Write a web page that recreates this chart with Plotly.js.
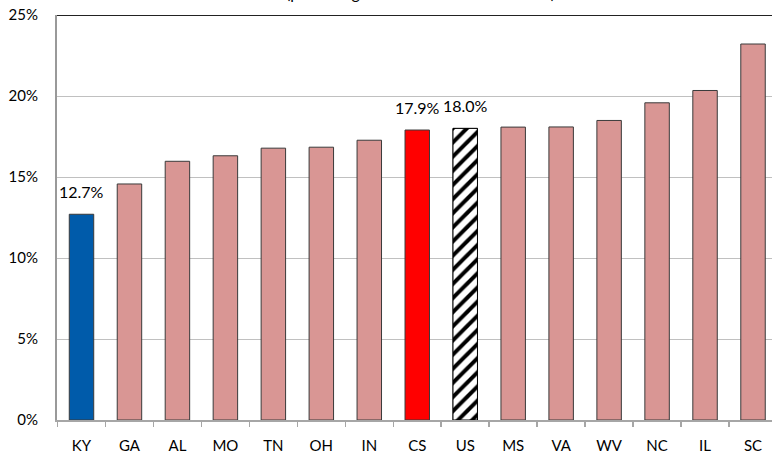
<!DOCTYPE html>
<html>
<head>
<meta charset="utf-8">
<script src="https://cdn.plot.ly/plotly-3.0.1.min.js"></script>
<style>
  html, body { margin: 0; padding: 0; overflow: hidden; background: #fff; }
  #chart { width: 780px; height: 455px; }
</style>
</head>
<body>
<div id="chart"></div>
<script>
// ---- data ----
const categories = ['KY','GA','AL','MO','TN','OH','IN','CS','US','MS','VA','WV','NC','IL','SC'];
const values = [12.7, 14.57, 15.97, 16.31, 16.78, 16.84, 17.27, 17.9, 18.0, 18.08, 18.09, 18.49, 19.58, 20.34, 23.21];
const labeledCategories = ['KY','CS','US'];
const labelTexts = ['12.7%','17.9%','18.0%'];
const hatchedCategories = ['US'];
const yTickValues = [0, 5, 10, 15, 20, 25];
const titleText = '(percentage of the total for each State)';

// ---- styles ----
const defaultColor = '#D99694';
const specialColors = { KY: '#005BAA', CS: '#FF0000', US: '#FFFFFF' };
const colors = categories.map(c => specialColors[c] || defaultColor);
const FONT = 'Lato, "Open Sans", sans-serif';

const mainTrace = {
  type: 'bar',
  x: categories,
  y: values,
  marker: { color: colors, line: { color: '#3A3A3A', width: 1 } },
  hoverinfo: 'x+y'
};

const hatchTrace = {
  type: 'bar',
  x: hatchedCategories,
  y: hatchedCategories.map(c => values[categories.indexOf(c)]),
  marker: {
    color: '#FFFFFF',
    line: { color: '#000000', width: 1 },
    pattern: { shape: '/', fgcolor: '#000000', bgcolor: '#FFFFFF', size: 10, solidity: 0.4 }
  },
  hoverinfo: 'x+y'
};

const annotations = labeledCategories.map((c, i) => ({
  x: c,
  y: values[categories.indexOf(c)],
  xref: 'x', yref: 'y',
  text: labelTexts[i],
  showarrow: false,
  yanchor: 'bottom',
  yshift: 11,
  font: { family: FONT, size: 16, color: '#000' }
}));

annotations.push({
  xref: 'paper', yref: 'paper', x: 0.505, y: 1,
  xanchor: 'center', yanchor: 'bottom', yshift: 11,
  text: titleText, showarrow: false,
  font: { family: FONT, size: 16, color: '#000' }
});

const layout = {
  width: 780,
  height: 455,
  margin: { l: 57, r: 3, t: 15, b: 35 },
  paper_bgcolor: '#fff',
  plot_bgcolor: '#fff',
  showlegend: false,
  barmode: 'overlay',
  bargap: 0.49,
  font: { family: FONT, size: 15, color: '#000' },
  xaxis: {
    type: 'category',
    showline: true, linecolor: '#A6A6A6', linewidth: 1.5,
    ticks: 'outside', tickson: 'boundaries', ticklen: 5, tickcolor: '#A6A6A6', tickwidth: 1.5,
    ticklabelstandoff: 11,
    showgrid: false,
    tickfont: { size: 15 }
  },
  yaxis: {
    range: [0, 25],
    tickvals: yTickValues,
    ticktext: yTickValues.map(v => v + '%'),
    showgrid: true, gridcolor: '#C0C0C0', gridwidth: 1,
    zeroline: false,
    showline: true, linecolor: '#999999', linewidth: 2,
    ticks: '', ticklabelstandoff: 14,
    tickfont: { size: 15 }
  },
  shapes: [{
    type: 'line', xref: 'paper', yref: 'y', x0: 0, x1: 1, y0: 25, y1: 25,
    line: { color: '#222', width: 2 }
  }],
  annotations: annotations
};

Plotly.newPlot('chart', [mainTrace, hatchTrace], layout, { displayModeBar: false, staticPlot: true });
</script>
</body>
</html>
